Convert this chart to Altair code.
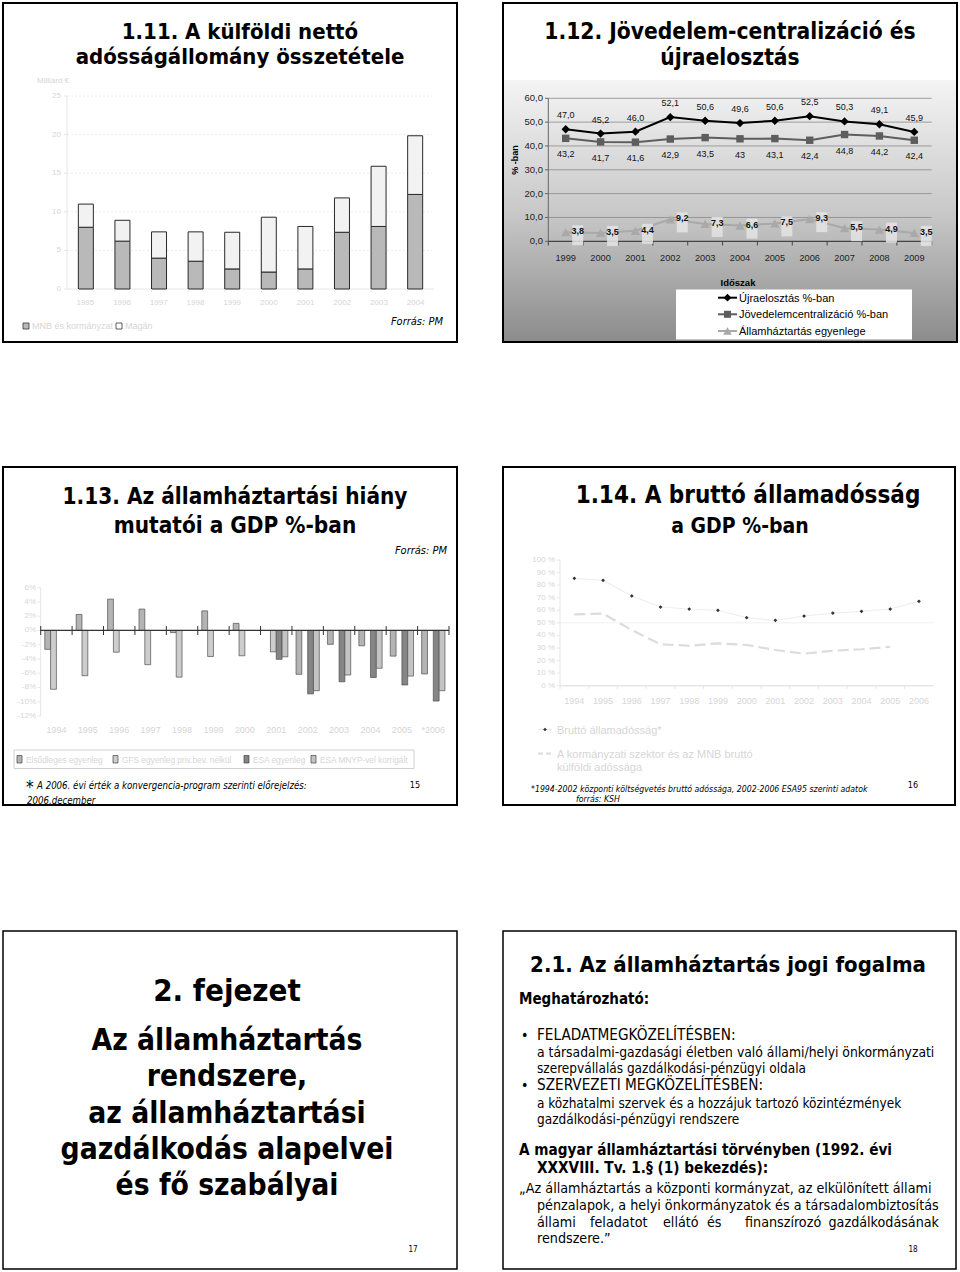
import altair as alt
import pandas as pd

# ---------------- data ----------------
# 1.11
y11_years = ["1995", "1996", "1997", "1998", "1999", "2000", "2001", "2002", "2003", "2004"]
y11_series = ["MNB és kormányzat", "Magán"]
y11_mnb = [8.0, 6.2, 4.0, 3.6, 2.6, 2.2, 2.6, 7.35, 8.1, 12.25]
y11_magan = [3.0, 2.7, 3.4, 3.8, 4.75, 7.1, 5.5, 4.45, 7.8, 7.6]
y11_ticks = [0, 5, 10, 15, 20, 25]

# 1.12
y12_years = ["1999", "2000", "2001", "2002", "2003", "2004", "2005", "2006", "2007", "2008", "2009"]
y12_series = ["Újraelosztás %-ban", "Jövedelemcentralizáció %-ban", "Államháztartás egyenlege"]
y12_ujra = [47.0, 45.2, 46.0, 52.1, 50.6, 49.6, 50.6, 52.5, 50.3, 49.1, 45.9]
y12_jov = [43.2, 41.7, 41.6, 42.9, 43.5, 43.0, 43.1, 42.4, 44.8, 44.2, 42.4]
y12_egy = [3.8, 3.5, 4.4, 9.2, 7.3, 6.6, 7.5, 9.3, 5.5, 4.9, 3.5]
y12_ujra_lbl = ["47,0", "45,2", "46,0", "52,1", "50,6", "49,6", "50,6", "52,5", "50,3", "49,1", "45,9"]
y12_jov_lbl = ["43,2", "41,7", "41,6", "42,9", "43,5", "43", "43,1", "42,4", "44,8", "44,2", "42,4"]
y12_egy_lbl = ["3,8", "3,5", "4,4", "9,2", "7,3", "6,6", "7,5", "9,3", "5,5", "4,9", "3,5"]
y12_ticks = [0, 10, 20, 30, 40, 50, 60]
y12_tick_lbl = ["0,0", "10,0", "20,0", "30,0", "40,0", "50,0", "60,0"]

# 1.13
y13_years = ["1994", "1995", "1996", "1997", "1998", "1999", "2000", "2001", "2002", "2003", "2004", "2005", "*2006"]
y13_series = ["Elsődleges egyenleg", "GFS egyenleg priv.bev. nélkül", "ESA egyenleg", "ESA MNYP-vel korrigált"]
y13_elso = [-2.65, 2.25, 4.4, 3.0, -0.3, 2.75, 1.0, None, -6.15, -1.95, -2.15, -3.6, -6.1]
y13_gfs = [-8.25, -6.35, -3.05, -4.8, -6.55, -3.65, -3.55, -3.0, None, None, None, None, None]
y13_esa = [None, None, None, None, None, None, None, -4.05, -8.9, -7.2, -6.6, -7.65, -9.9]
y13_mnyp = [None, None, None, None, None, None, None, -3.7, -8.45, -6.25, -5.3, -6.4, -8.45]
y13_ticks = [6, 4, 2, 0, -2, -4, -6, -8, -10, -12]
y13_tick_lbl = ["6%", "4%", "2%", "0%", "-2%", "-4%", "-6%", "-8%", "-10%", "-12%"]

# 1.14
y14_years = ["1994", "1995", "1996", "1997", "1998", "1999", "2000", "2001", "2002", "2003", "2004", "2005", "2006"]
y14_series = ["Bruttó államadósság*", "A kormányzati szektor és az MNB bruttó külföldi adóssága"]
y14_brutto = [85.4, 83.8, 71.4, 62.6, 61.0, 60.0, 54.1, 52.0, 55.4, 57.8, 59.2, 61.0, 67.1]
y14_kulf = [56.8, 57.3, 44.3, 32.9, 31.8, 33.7, 32.4, 28.4, 25.5, 27.8, 29.0, 31.0, None]
y14_ticks = [0, 10, 20, 30, 40, 50, 60, 70, 80, 90, 100]
y14_tick_lbl = ["0 %", "10 %", "20 %", "30 %", "40 %", "50 %", "60 %", "70 %", "80 %", "90 %", "100 %"]

# ---------------- helpers ----------------
F_T = "DejaVu Sans Condensed, DejaVu Sans, sans-serif"
F_N = "Liberation Sans Narrow, Liberation Sans, Arial, sans-serif"
F_A = "Liberation Sans, Arial, sans-serif"
FAINT = "#d6d6d6"

ONE = pd.DataFrame({"k": [0]})
L = []


def txt(s, x, y, size, color="#000", weight="normal", style="normal", align="left",
        font=F_T, baseline="alphabetic", angle=None):
    mk = dict(text=s, fontSize=size, color=color, fontWeight=weight, fontStyle=style,
              align=align, font=font, baseline=baseline)
    if angle is not None:
        mk["angle"] = angle
    L.append(alt.Chart(ONE).mark_text(**mk).encode(x=alt.value(x), y=alt.value(y)))


def rect(x0, y0, x1, y1, fill="transparent", stroke=None, sw=1.0):
    mk = dict(fill=fill, strokeWidth=sw)
    if stroke:
        mk["stroke"] = stroke
    L.append(alt.Chart(ONE).mark_rect(**mk).encode(
        x=alt.value(x0), x2=alt.value(x1), y=alt.value(y0), y2=alt.value(y1)))


def rule(x0, y0, x1, y1, color="#000", sw=1.0, dash=None):
    mk = dict(color=color, strokeWidth=sw)
    if dash:
        mk["strokeDash"] = dash
    L.append(alt.Chart(ONE).mark_rule(**mk).encode(
        x=alt.value(x0), x2=alt.value(x1), y=alt.value(y0), y2=alt.value(y1)))


def pt(x, y, shape, size, color):
    mk = dict(shape=shape, size=size, filled=True, color=color, opacity=1)
    L.append(alt.Chart(ONE).mark_point(**mk).encode(x=alt.value(x), y=alt.value(y)))


# ================= slide 1.11 =================
rect(3, 3, 457, 342, stroke="#000", sw=2)
txt("1.11. A külföldi nettó", 240, 39, 22, weight="bold", align="center")
txt("adósságállomány összetétele", 240, 64, 22, weight="bold", align="center")

X11 = alt.Scale(domain=y11_years, range=[67, 434], paddingInner=0.59, paddingOuter=0.31)
Y11 = alt.Scale(domain=[0, 25], range=[289, 96], nice=False, zero=False)

t11 = pd.DataFrame({"v": y11_ticks})
L.append(alt.Chart(t11[t11.v > 0]).mark_rule(color="#ececec", strokeDash=[2, 2]).encode(
    y=alt.Y("v:Q", scale=Y11, axis=None), x=alt.value(67), x2=alt.value(432)))
rule(67, 96, 67, 289, color="#e6e6e6")
rule(67, 289, 434, 289, color="#e6e6e6")
L.append(alt.Chart(t11).mark_text(align="right", baseline="middle", fontSize=8, color=FAINT, font=F_A).encode(
    y=alt.Y("v:Q", scale=Y11, axis=None), x=alt.value(61), text="v:Q"))
L.append(alt.Chart(t11).mark_rule(color="#e6e6e6").encode(
    y=alt.Y("v:Q", scale=Y11, axis=None), x=alt.value(64), x2=alt.value(67)))
txt("Milliárd €", 37, 83, 8, color=FAINT, font=F_A)

df11 = pd.DataFrame({
    "year": y11_years * 2,
    "series": [y11_series[0]] * len(y11_years) + [y11_series[1]] * len(y11_years),
    "value": y11_mnb + y11_magan,
    "ord": [0] * len(y11_years) + [1] * len(y11_years),
})
L.append(alt.Chart(df11).mark_bar(stroke="#2a2a2a", strokeWidth=1).encode(
    x=alt.X("year:N", scale=X11, axis=None),
    y=alt.Y("value:Q", scale=Y11, axis=None, stack="zero"),
    color=alt.Color("series:N", scale=alt.Scale(domain=y11_series, range=["#b9b9b9", "#f2f2f2"]), legend=None),
    order=alt.Order("ord:Q"),
))
yr11 = pd.DataFrame({"year": y11_years})
L.append(alt.Chart(yr11).mark_text(baseline="middle", fontSize=8, color=FAINT, font=F_A).encode(
    x=alt.X("year:N", scale=X11, axis=None, bandPosition=0.5), y=alt.value(303), text="year:N"))
L.append(alt.Chart(yr11).mark_rule(color="#e6e6e6").encode(
    x=alt.X("year:N", scale=X11, axis=None, bandPosition=0), y=alt.value(289), y2=alt.value(292)))

rect(23, 323, 29, 329, fill="#b9b9b9", stroke="#333", sw=0.8)
txt(y11_series[0], 32, 329, 9, color=FAINT, font=F_A)
rect(116, 323, 122, 329, fill="#ffffff", stroke="#333", sw=0.8)
txt(y11_series[1], 125, 329, 9, color=FAINT, font=F_A)
txt("Forrás: PM", 443, 325, 11, style="italic", align="right")

# ================= slide 1.12 =================
grad = alt.LinearGradient(
    gradient="linear", x1=0, x2=0, y1=0, y2=1,
    stops=[alt.GradientStop(color="#f4f4f4", offset=0),
           alt.GradientStop(color="#c9c9c9", offset=0.5),
           alt.GradientStop(color="#8c8c8c", offset=1)])
L.append(alt.Chart(ONE).mark_rect(fill=grad).encode(
    x=alt.value(504), x2=alt.value(956), y=alt.value(80), y2=alt.value(341)))
rect(503, 3, 957, 342, stroke="#000", sw=2)
txt("1.12. Jövedelem-centralizáció és", 730, 39, 22.6, weight="bold", align="center")
txt("újraelosztás", 730, 65, 22.6, weight="bold", align="center")

X12 = alt.Scale(type="point", domain=y12_years, range=[548.3, 931.7], padding=0.5)
X12b = alt.Scale(domain=y12_years, range=[548.3, 931.7], paddingInner=0, paddingOuter=0)
Y12 = alt.Scale(domain=[0, 60], range=[241.3, 98.3], nice=False, zero=False)

t12 = pd.DataFrame({"v": y12_ticks, "lbl": y12_tick_lbl})
L.append(alt.Chart(t12[t12.v > 0]).mark_rule(color="#8a8a8a", strokeWidth=0.8).encode(
    y=alt.Y("v:Q", scale=Y12, axis=None), x=alt.value(548.3), x2=alt.value(931.7)))
rule(548.3, 98.3, 548.3, 241.3, color="#666")
rule(548.3, 241.3, 931.7, 241.3, color="#444", sw=1.2)
L.append(alt.Chart(t12).mark_rule(color="#666").encode(
    y=alt.Y("v:Q", scale=Y12, axis=None), x=alt.value(545), x2=alt.value(548.3)))
L.append(alt.Chart(t12).mark_text(align="right", baseline="middle", fontSize=9.5, color="#222", font=F_N).encode(
    y=alt.Y("v:Q", scale=Y12, axis=None), x=alt.value(543), text="lbl:N"))
yr12 = pd.DataFrame({"year": y12_years})
L.append(alt.Chart(yr12).mark_rule(color="#444").encode(
    x=alt.X("year:N", scale=X12b, axis=None, bandPosition=0), y=alt.value(241.3), y2=alt.value(245.5)))
rule(931.7, 241.3, 931.7, 245.5, color="#444")
L.append(alt.Chart(yr12).mark_text(baseline="middle", fontSize=9.2, color="#222", font=F_N).encode(
    x=alt.X("year:N", scale=X12, axis=None), y=alt.value(257.5), text="year:N"))
txt("% -ban", 515, 160, 9, weight="bold", align="center", font=F_A, baseline="middle", angle=270)

df12 = pd.DataFrame({"year": y12_years, "ujra": y12_ujra, "jov": y12_jov, "egy": y12_egy,
                     "lu": y12_ujra_lbl, "lj": y12_jov_lbl, "le": y12_egy_lbl})
b12 = alt.Chart(df12).encode(x=alt.X("year:N", scale=X12, axis=None))
L.append(b12.mark_line(color="#a9a9a9", strokeWidth=2).encode(y=alt.Y("egy:Q", scale=Y12, axis=None)))
L.append(b12.mark_point(shape="M-0.55,-1L0.55,-1L0.55,1L-0.55,1Z", size=400, filled=True, color="#e4e4e4",
                        opacity=0.85, xOffset=12, yOffset=3).encode(y=alt.Y("egy:Q", scale=Y12, axis=None)))
L.append(b12.mark_point(shape="triangle-up", size=90, filled=True, color="#a9a9a9", opacity=1).encode(
    y=alt.Y("egy:Q", scale=Y12, axis=None)))
L.append(b12.mark_line(color="#5e5e5e", strokeWidth=2).encode(y=alt.Y("jov:Q", scale=Y12, axis=None)))
L.append(b12.mark_point(shape="square", size=55, filled=True, color="#5e5e5e", opacity=1).encode(
    y=alt.Y("jov:Q", scale=Y12, axis=None)))
L.append(b12.mark_line(color="#000", strokeWidth=2).encode(y=alt.Y("ujra:Q", scale=Y12, axis=None)))
L.append(b12.mark_point(shape="diamond", size=70, filled=True, color="#000", opacity=1).encode(
    y=alt.Y("ujra:Q", scale=Y12, axis=None)))
L.append(b12.mark_text(dy=-14, baseline="middle", fontSize=9, color="#111", font=F_N).encode(
    y=alt.Y("ujra:Q", scale=Y12, axis=None), text="lu:N"))
L.append(b12.mark_text(dy=16, baseline="middle", fontSize=9, color="#111", font=F_N).encode(
    y=alt.Y("jov:Q", scale=Y12, axis=None), text="lj:N"))
L.append(b12.mark_text(dx=12, dy=-1, baseline="middle", fontSize=9, fontWeight="bold", color="#111", font=F_N).encode(
    y=alt.Y("egy:Q", scale=Y12, axis=None), text="le:N"))

txt("Időszak", 738, 286, 9.5, weight="bold", align="center", font=F_N)
rect(676, 289.5, 912, 339.5, fill="#ffffff")
rule(718, 297.7, 737, 297.7, color="#000", sw=2)
pt(727.5, 297.7, "diamond", 60, "#000")
txt(y12_series[0], 739, 301.8, 11, font=F_N)
rule(718, 314.3, 737, 314.3, color="#5e5e5e", sw=2)
pt(727.5, 314.3, "square", 50, "#5e5e5e")
txt(y12_series[1], 739, 318.4, 11, font=F_N)
rule(718, 331, 737, 331, color="#a9a9a9", sw=2)
pt(727.5, 331, "triangle-up", 75, "#a9a9a9")
txt(y12_series[2], 739, 335.1, 11, font=F_N)

# ================= slide 1.13 =================
rect(3, 467, 457, 805, stroke="#000", sw=2)
txt("1.13. Az államháztartási hiány", 235, 504, 22.4, weight="bold", align="center")
txt("mutatói a GDP %-ban", 235, 533, 22.4, weight="bold", align="center")
txt("Forrás: PM", 447, 554, 11, style="italic", align="right")

X13 = alt.Scale(domain=y13_years, range=[40.7, 449], paddingInner=0, paddingOuter=0)
Y13 = alt.Scale(domain=[-12, 6], range=[716, 587.7], nice=False, zero=False)
t13 = pd.DataFrame({"v": y13_ticks, "lbl": y13_tick_lbl})
rule(40.7, 587.7, 40.7, 716, color="#e6e6e6")
L.append(alt.Chart(t13).mark_rule(color="#e6e6e6").encode(
    y=alt.Y("v:Q", scale=Y13, axis=None), x=alt.value(37.5), x2=alt.value(40.7)))
L.append(alt.Chart(t13).mark_text(align="right", baseline="middle", fontSize=8, color=FAINT, font=F_A).encode(
    y=alt.Y("v:Q", scale=Y13, axis=None), x=alt.value(36), text="lbl:N"))

rows13 = []
for i, yy in enumerate(y13_years):
    for s, arr in zip(y13_series, [y13_elso, y13_gfs, y13_esa, y13_mnyp]):
        if arr[i] is not None:
            rows13.append({"year": yy, "series": s, "value": arr[i]})
df13 = pd.DataFrame(rows13)
L.append(alt.Chart(df13).mark_bar(stroke="#505050", strokeWidth=0.7).encode(
    x=alt.X("year:N", scale=X13, axis=None),
    xOffset=alt.XOffset("series:N", scale=alt.Scale(domain=y13_series, paddingOuter=0.7, paddingInner=0)),
    y=alt.Y("value:Q", scale=Y13, axis=None),
    y2=alt.datum(0),
    color=alt.Color("series:N", scale=alt.Scale(domain=y13_series,
                                                range=["#b4b4b4", "#cdcdcd", "#858585", "#c4c4c4"]), legend=None),
))
yr13 = pd.DataFrame({"year": y13_years})
rule(40.7, 630.3, 449, 630.3, color="#333", sw=1.2)
L.append(alt.Chart(yr13).mark_rule(color="#333", strokeWidth=1).encode(
    x=alt.X("year:N", scale=X13, axis=None, bandPosition=0), y=alt.value(626), y2=alt.value(635)))
rule(449, 626, 449, 635, color="#333")
L.append(alt.Chart(yr13).mark_text(baseline="middle", fontSize=9, color=FAINT, font=F_N).encode(
    x=alt.X("year:N", scale=X13, axis=None, bandPosition=0.5), y=alt.value(729.5), text="year:N"))

rect(14, 750, 414, 768.5, stroke="#d0d0d0", sw=1)
leg13_x = [17, 113, 244, 311]
leg13_c = ["#b4b4b4", "#cdcdcd", "#858585", "#c4c4c4"]
for xx, cc, ss in zip(leg13_x, leg13_c, y13_series):
    rect(xx, 755.5, xx + 5, 763, fill=cc, stroke="#444", sw=0.7)
    txt(ss, xx + 9, 763, 8.3, color=FAINT, font=F_A)
txt("*", 26, 793, 17, font=F_T)
txt("A 2006. évi érték a konvergencia-program szerinti előrejelzés:", 37, 788.5, 9.6, style="italic")
txt("2006.december", 27, 803.5, 9.6, style="italic")
txt("15", 415, 788, 9, align="center")

# ================= slide 1.14 =================
rect(503, 467, 955, 805, stroke="#000", sw=2)
txt("1.14. A bruttó államadósság", 748, 503, 24, weight="bold", align="center")
txt("a GDP %-ban", 740, 533, 21, weight="bold", align="center")

X14 = alt.Scale(type="point", domain=y14_years, range=[560, 933.3], padding=0.5)
X14b = alt.Scale(domain=y14_years, range=[560, 933.3], paddingInner=0, paddingOuter=0)
Y14 = alt.Scale(domain=[0, 100], range=[685.7, 560], nice=False, zero=False)
t14 = pd.DataFrame({"v": y14_ticks, "lbl": y14_tick_lbl})
L.append(alt.Chart(t14[t14.v == 50]).mark_rule(color="#f0f0f0").encode(
    y=alt.Y("v:Q", scale=Y14, axis=None), x=alt.value(560), x2=alt.value(933.3)))
rule(560, 560, 560, 685.7, color="#e6e6e6")
rule(560, 685.7, 933.3, 685.7, color="#e6e6e6", sw=1.5)
L.append(alt.Chart(t14).mark_rule(color="#e6e6e6").encode(
    y=alt.Y("v:Q", scale=Y14, axis=None), x=alt.value(557), x2=alt.value(560)))
L.append(alt.Chart(t14).mark_text(align="right", baseline="middle", fontSize=8, color=FAINT, font=F_A).encode(
    y=alt.Y("v:Q", scale=Y14, axis=None), x=alt.value(555), text="lbl:N"))
yr14 = pd.DataFrame({"year": y14_years})
L.append(alt.Chart(yr14).mark_rule(color="#e6e6e6").encode(
    x=alt.X("year:N", scale=X14b, axis=None, bandPosition=0), y=alt.value(685.7), y2=alt.value(689)))
L.append(alt.Chart(yr14).mark_text(baseline="middle", fontSize=9, color=FAINT, font=F_A).encode(
    x=alt.X("year:N", scale=X14, axis=None), y=alt.value(701), text="year:N"))

df14 = pd.DataFrame({"year": y14_years, "brutto": y14_brutto, "kulf": y14_kulf})
b14 = alt.Chart(df14).encode(x=alt.X("year:N", scale=X14, axis=None))
L.append(b14.mark_line(color="#dcdcdc", strokeWidth=2.2, strokeDash=[11, 5]).encode(
    y=alt.Y("kulf:Q", scale=Y14, axis=None)))
L.append(b14.mark_line(color="#efefef", strokeWidth=1.2).encode(y=alt.Y("brutto:Q", scale=Y14, axis=None)))
L.append(b14.mark_point(shape="diamond", size=14, filled=True, color="#333", opacity=1).encode(
    y=alt.Y("brutto:Q", scale=Y14, axis=None)))

rule(538, 729.5, 552, 729.5, color="#e6e6e6", sw=1.2)
pt(545, 729.5, "diamond", 14, "#333")
txt(y14_series[0], 557, 733.5, 11, color=FAINT, font=F_A)
rule(538, 753.5, 553, 753.5, color="#dcdcdc", sw=2, dash=[5, 3])
txt("A kormányzati szektor és az MNB bruttó", 557, 757.5, 11, color=FAINT, font=F_A)
txt("külföldi adóssága", 557, 771, 11, color=FAINT, font=F_A)
txt("*1994-2002 központi költségvetés bruttó adóssága,  2002-2006 ESA95 szerinti adatok", 531, 792, 8.7, style="italic")
txt("forrás: KSH", 576, 802, 8.7, style="italic")
txt("16", 913, 788, 9, align="center")

# ================= slide 2 =================
rect(3, 931, 457, 1269, stroke="#000", sw=1.5)
cx = 227
txt("2. fejezet", cx, 1001, 31, weight="bold", align="center")
txt("Az államháztartás", cx, 1050, 29.7, weight="bold", align="center")
txt("rendszere,", cx, 1086, 29.7, weight="bold", align="center")
txt("az államháztartási", cx, 1122.5, 29.7, weight="bold", align="center")
txt("gazdálkodás alapelvei", cx, 1159, 29.7, weight="bold", align="center")
txt("és fő szabályai", cx, 1195, 29.7, weight="bold", align="center")
txt("17", 413, 1251.5, 8, align="center")

# ================= slide 2.1 =================
rect(503, 931, 956, 1269, stroke="#000", sw=1.5)
txt("2.1. Az államháztartás jogi fogalma", 728, 972, 22, weight="bold", align="center")
txt("Meghatározható:", 519, 1003.5, 15, weight="bold")
txt("•", 521, 1040, 14)
txt("FELADATMEGKÖZELÍTÉSBEN:", 537, 1040, 15.2)
txt("a társadalmi-gazdasági életben való állami/helyi önkormányzati", 537, 1056.7, 13.8)
txt("szerepvállalás gazdálkodási-pénzügyi oldala", 537, 1072.7, 13.5)
txt("•", 521, 1090, 14)
txt("SZERVEZETI MEGKÖZELÍTÉSBEN:", 537, 1090, 15.2)
txt("a közhatalmi szervek és a hozzájuk tartozó közintézmények", 537, 1107.7, 13.5)
txt("gazdálkodási-pénzügyi rendszere", 537, 1124, 13.5)
txt("A magyar államháztartási törvényben (1992. évi", 519, 1155, 15.2, weight="bold")
txt("XXXVIII. Tv. 1.§ (1) bekezdés):", 537, 1173.3, 15.2, weight="bold")
txt("„Az államháztartás a központi kormányzat, az elkülönített állami", 519, 1193.3, 14.2)
txt("pénzalapok, a helyi önkormányzatok és a társadalombiztosítás", 537, 1210, 14.2)
for w, xx, al in zip(["állami", "feladatot", "ellátó", "és", "finanszírozó", "gazdálkodásának"],
                     [537, 590, 663, 707, 745, 939], ["left"] * 5 + ["right"]):
    txt(w, xx, 1226.7, 14.2, align=al)
txt("rendszere.”", 537, 1243.3, 14.2)
txt("18", 913, 1251.5, 8, align="center")

chart = alt.layer(*L).resolve_scale(
    x="independent", y="independent", color="independent"
).properties(
    width=960, height=1272, padding=0, autosize="none", background="#ffffff"
).configure_view(strokeWidth=0)

chart.save("out.html", embed_options={"renderer": "svg", "actions": False})
